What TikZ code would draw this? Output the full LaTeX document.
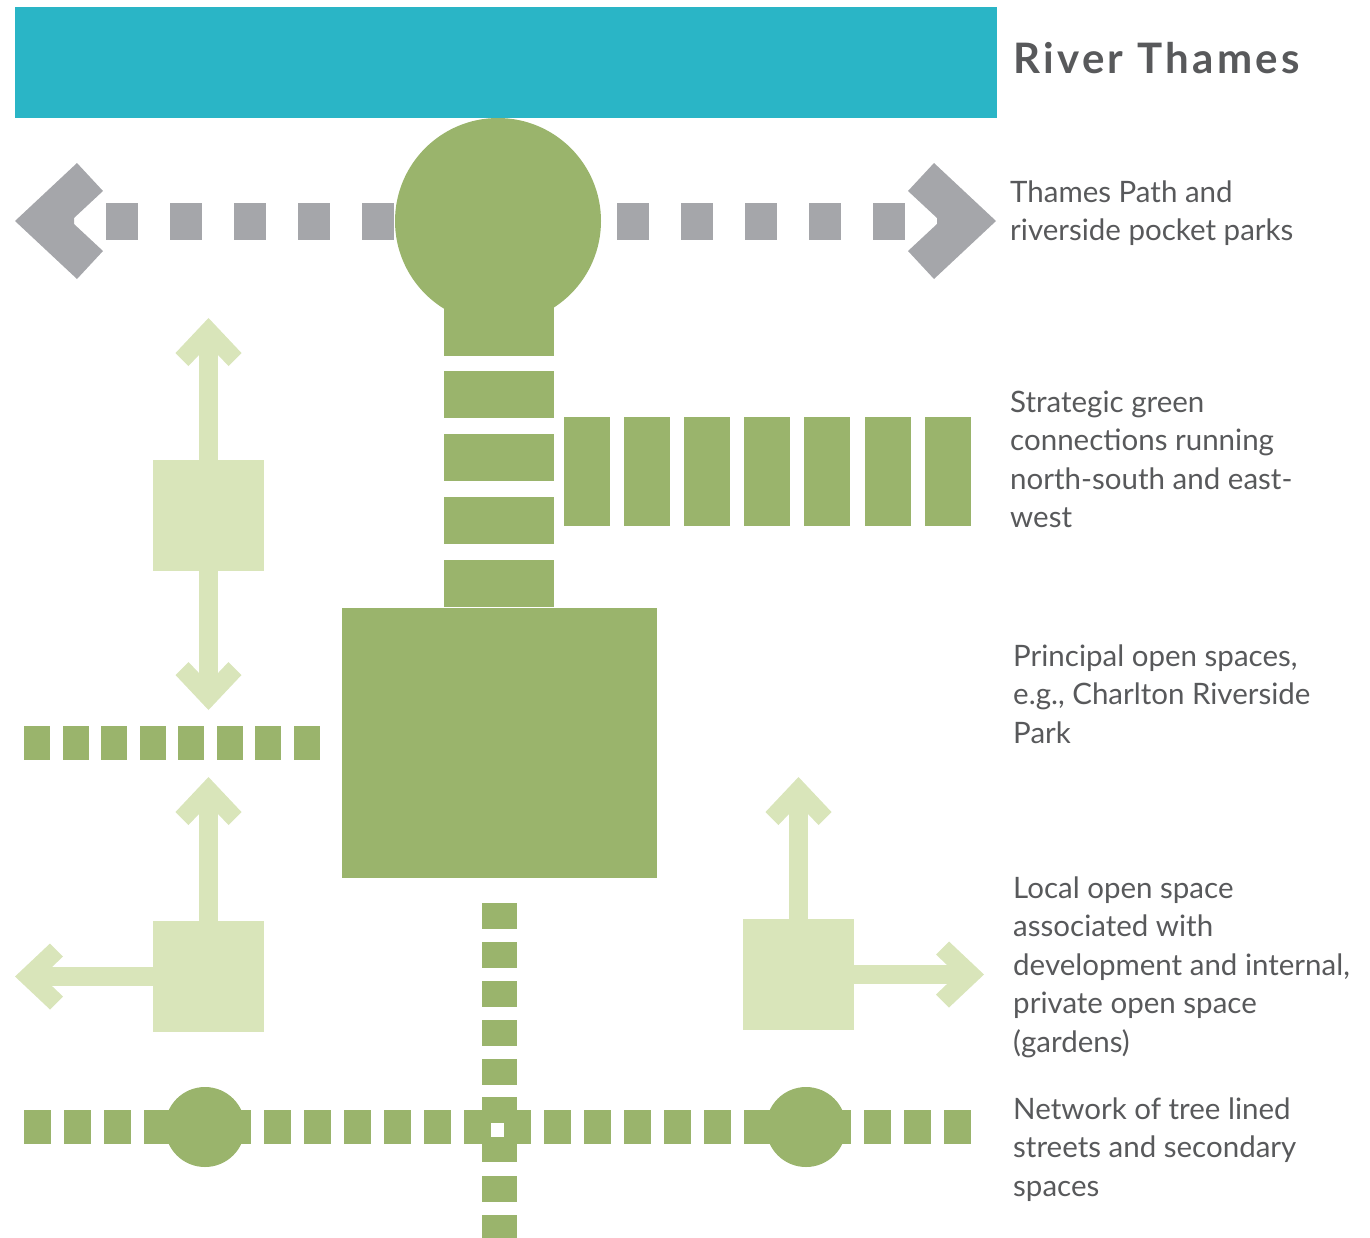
\documentclass[tikz,border=0pt]{standalone}
\usepackage{fontspec}
\setmainfont{Lato}
\definecolor{river}{HTML}{2AB5C6}
\definecolor{pathgray}{HTML}{A5A6AA}
\definecolor{parkgreen}{HTML}{9AB46C}
\definecolor{lightgreen}{HTML}{D9E5BA}
\definecolor{textgray}{HTML}{58595B}
\tikzset{
  gsq/.style={fill=pathgray},
  grn/.style={fill=parkgreen},
  lgrn/.style={fill=lightgreen},
  ahead/.pic={\fill[lightgreen] (0,0) -- (-35,33) -- (-48,20) -- (-27,0) -- (-48,-20) -- (-35,-33) -- cycle;},
  lbl/.style={anchor=base west, align=left, inner sep=0pt, text=textgray,
    font=\fontsize{29.5}{38.5}\selectfont},
}
\begin{document}
\begin{tikzpicture}[x=1pt,y=-1pt]
\useasboundingbox (0,0) rectangle (1370,1237);
\clip (0,0) rectangle (1370,1237);
% river
\fill[river] (15,7) rectangle (997,118);
\node[anchor=base west, inner sep=0pt, text=textgray, font=\fontsize{42}{42}\selectfont\bfseries\addfontfeatures{LetterSpace=8}] (river) at (1013,73) {River Thames};
% Thames path
\fill[gsq] (15,221) -- (77,163) -- (103,191) -- (74,218) -- (74,224) -- (103,251) -- (77,279) -- cycle;
\fill[gsq] (996,221) -- (934,163) -- (908,191) -- (937,218) -- (937,224) -- (908,251) -- (934,279) -- cycle;
\foreach \x in {106,170,234,298,362,617,681,745,809,873}
  \fill[gsq] (\x,203) rectangle ++(32,37);
% top circle and N-S spine
\fill[grn] (498,221) circle (103);
\fill[grn] (444,300) rectangle (554,356);
\foreach \y in {371,434,497,560}
  \fill[grn] (444,\y) rectangle ++(110,47);
\foreach \x in {564,624,684,744,804,865,925}
  \fill[grn] (\x,417) rectangle ++(46,109);
% principal open space
\fill[grn] (342,608) rectangle (657,878);
% light green group 1
\fill[lgrn] (199,330) rectangle (218,695);
\fill[lgrn] (153,460) rectangle (264,571);
\pic[rotate=90] at (208.5,318) {ahead};
\pic[rotate=-90] at (208.5,710) {ahead};
% left dashed row
\foreach \k in {0,...,7}
  \fill[grn] ({24+38.5*\k},726) rectangle ++(26,34);
% light green group 2
\fill[lgrn] (199,790) rectangle (218,921);
\fill[lgrn] (30,967) rectangle (153,986);
\fill[lgrn] (153,921) rectangle (264,1032);
\pic[rotate=90] at (208.5,777) {ahead};
\pic[rotate=180] at (15,976.5) {ahead};
% light green group 3
\fill[lgrn] (789,790) rectangle (808,919);
\fill[lgrn] (854,965) rectangle (970,984);
\fill[lgrn] (743,919) rectangle (854,1030);
\pic[rotate=90] at (798.5,777) {ahead};
\pic at (984,974.5) {ahead};
% vertical dashed street
\foreach \k in {0,...,4,7,8}
  \fill[grn] (482,{903+39*\k}) rectangle ++(35,26);
% bottom row
\foreach \k in {0,1,2,6,7,8,9,10,13,14,15,16,17,21,22,23}
  \fill[grn] ({24+40*\k},1110) rectangle ++(27,34);
\fill[grn] (144,1110) rectangle (251,1144);
\fill[grn] (744,1110) rectangle (851,1144);
\fill[grn] (205,1127) circle (40);
\fill[grn] (806,1127) circle (40);
\fill[grn] (464,1110) rectangle (531,1144);
\fill[grn] (482,1097) rectangle (517,1162);
\fill[white] (491,1123) rectangle (504,1137);
% labels (anchored at the baseline of the last line)
\node[lbl] (l1) at (1010,240.5) {Thames Path and\\riverside pocket parks};
\node[lbl] (l2) at (1010,527.5) {Strategic green\\connections running\\north-south and east-\\west};
\node[lbl] (l3) at (1013,743) {Principal open spaces,\\e.g., Charlton Riverside\\Park};
\node[lbl] (l4) at (1013,1052) {Local open space\\associated with\\development and internal,\\private open space\\(gardens)};
\node[lbl] (l5) at (1013,1196) {Network of tree lined\\streets and secondary\\spaces};
\end{tikzpicture}
\end{document}
